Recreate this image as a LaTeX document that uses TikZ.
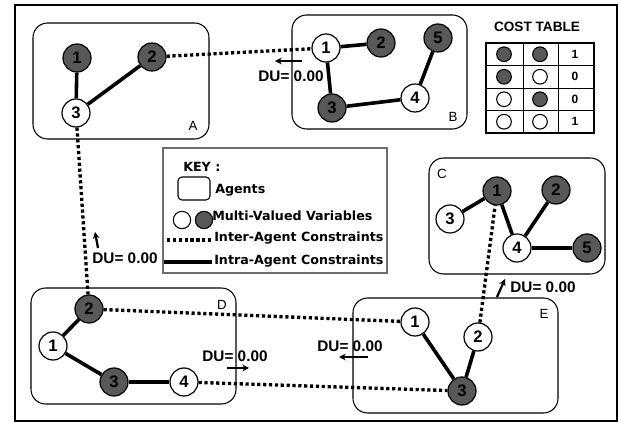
\documentclass[tikz,border=0pt]{standalone}
\usepackage{fontspec}
\setmainfont{Liberation Sans}
\newfontfamily\keyfont{DejaVu Sans}
\usetikzlibrary{arrows.meta,positioning}
\definecolor{varDark}{RGB}{88,88,88}
\definecolor{keyGray}{RGB}{110,110,110}
\tikzset{
  var/.style      = {circle, draw, line width=0.9pt, minimum size=21pt,
                     inner sep=0pt, font=\fontsize{12.5}{12}\selectfont\bfseries},
  dvar/.style     = {var, fill=varDark},
  wvar/.style     = {var, fill=white},
  intra/.style    = {line width=2.7pt},
  inter/.style    = {line width=2.5pt, dash pattern=on 2.4pt off 2pt},
  agentbox/.style = {draw, line width=0.8pt, rounded corners=11pt},
  du/.style       = {font=\fontsize{11.5}{12}\selectfont\bfseries},
  duarr/.style    = {-{Stealth[length=5pt,width=5pt]}, line width=1.7pt},
  agentlbl/.style = {font=\fontsize{10}{10}\selectfont},
  keytxt/.style   = {anchor=west, inner sep=0pt,
                     font=\keyfont\fontsize{9.5}{10}\selectfont\bfseries},
  ctdot/.style    = {circle, draw, line width=0.8pt, minimum size=11pt, inner sep=0pt}
}

\begin{document}
\begin{tikzpicture}[x=0.75pt, y=-0.75pt]
  \useasboundingbox[fill=white] (0,0) rectangle (621,423);
  \draw[line width=2.2pt] (15,5) rectangle (617,421);

  % agents
  \draw[agentbox] (33,23) rectangle (209,139);
  \draw[agentbox] (292,15) rectangle (467,129);
  \draw[agentbox] (429,158) rectangle (605,274);
  \draw[agentbox] (31,288) rectangle (236,404);
  \draw[agentbox] (353,298) rectangle (558,413);
  \node[agentlbl] (lblA) at (193,126) {A};
  \node[agentlbl] (lblB) at (453,117) {B};
  \node[agentlbl] (lblC) at (442,174) {C};
  \node[agentlbl] (lblD) at (222,305) {D};
  \node[agentlbl] (lblE) at (544,314) {E};

  % variables
  \node[dvar] (a1) at (77,58)   {1};
  \node[dvar] (a2) at (152,57)  {2};
  \node[wvar] (a3) at (76,113)  {3};

  \node[wvar] (b1) at (326,48)  {1};
  \node[dvar] (b2) at (381,43)  {2};
  \node[dvar] (b3) at (332,108) {3};
  \node[wvar] (b4) at (415,98)  {4};
  \node[dvar] (b5) at (438,38)  {5};

  \node[dvar] (c1) at (497,191) {1};
  \node[dvar] (c2) at (556,190) {2};
  \node[wvar] (c3) at (450,219) {3};
  \node[wvar] (c4) at (517,248) {4};
  \node[dvar] (c5) at (587,248) {5};

  \node[wvar] (d1) at (53,346)  {1};
  \node[dvar] (d2) at (89,309)  {2};
  \node[dvar] (d3) at (114,382) {3};
  \node[wvar] (d4) at (184,382) {4};

  \node[wvar] (e1) at (415,322) {1};
  \node[wvar] (e2) at (478,337) {2};
  \node[dvar] (e3) at (462,391) {3};

  % intra-agent constraints
  \draw[intra] (a1) -- (a3);
  \draw[intra] (a2) -- (a3);
  \draw[intra] (b1) -- (b2);
  \draw[intra] (b1) -- (b3);
  \draw[intra] (b3) -- (b4);
  \draw[intra] (b4) -- (b5);
  \draw[intra] (c3) -- (c1);
  \draw[intra] (c1) -- (c4);
  \draw[intra] (c4) -- (c2);
  \draw[intra] (c4) -- (c5);
  \draw[intra] (d2) -- (d1);
  \draw[intra] (d1) -- (d3);
  \draw[intra] (d3) -- (d4);
  \draw[intra] (e1) -- (e3);
  \draw[intra] (e2) -- (e3);

  % inter-agent constraints
  \draw[inter] (a2) -- (b1);
  \draw[inter] (a3) -- (d2);
  \draw[inter] (d2) -- (e1);
  \draw[inter] (d4) -- (e3);
  \draw[inter] (e2) -- (c1);

  % DU messages
  \coordinate (duABs) at (302,61);  \coordinate (duABe) at (275,61);
  \coordinate (duADs) at (98,248);  \coordinate (duADe) at (95,232);
  \coordinate (duDEs) at (227,368); \coordinate (duDEe) at (249,368);
  \coordinate (duEDs) at (368,357); \coordinate (duEDe) at (339,357);
  \coordinate (duECs) at (497,297); \coordinate (duECe) at (505,279);
  \draw[duarr] (duABs) -- (duABe);
  \draw[duarr] (duADs) -- (duADe);
  \draw[duarr] (duDEs) -- (duDEe);
  \draw[duarr] (duEDs) -- (duEDe);
  \draw[duarr] (duECs) -- (duECe);
  \node[du] (tAB) at (291,76)  {DU= 0.00};
  \node[du] (tAD) at (125,258) {DU= 0.00};
  \node[du] (tDE) at (235,356) {DU= 0.00};
  \node[du] (tED) at (350,346) {DU= 0.00};
  \node[du] (tEC) at (543,287) {DU= 0.00};

  % cost table
  \node[font=\fontsize{10.2}{11}\selectfont\bfseries] (ctitle) at (537,27) {COST TABLE};
  \draw[line width=0.5pt] (523,43) -- (523,133) (558,43) -- (558,133)
    (486,65.5) -- (594,65.5) (486,88) -- (594,88) (486,110.5) -- (594,110.5);
  \draw[line width=1.5pt] (486,43) rectangle (594,133);
  \foreach \fa/\fb/\cost [count=\r] in {varDark/varDark/1, varDark/white/0,
                                        white/varDark/0, white/white/1} {
    \node[ctdot, fill=\fa] (ct\r a) at (504,31.75+22.5*\r) {};
    \node[ctdot, fill=\fb] (ct\r b) at (540,31.75+22.5*\r) {};
    \node[font=\fontsize{9}{9}\selectfont\bfseries] (ct\r c) at (575,31.75+22.5*\r) {\cost};
  }

  % key
  \draw[keyGray, line width=0.9pt] (163,148) rectangle (387,273);
  \node[keytxt] (kTitle) at (183,167) {KEY :};
  \draw[line width=0.8pt, rounded corners=3pt] (178,177) rectangle (210,200);
  \node[keytxt] (kAgent) at (215,190) {Agents};
  \node[ctdot, minimum size=13pt, fill=white] (kw) at (182,220) {};
  \node[ctdot, minimum size=13pt, fill=varDark] (kd) at (204,220) {};
  \node[keytxt] (kVar) at (212,216) {Multi-Valued Variables};
  \coordinate (kiS) at (167,240); \coordinate (kiE) at (212,240);
  \draw[inter] (kiS) -- (kiE);
  \node[keytxt] (kInter) at (214,238) {Inter-Agent Constraints};
  \coordinate (kaS) at (164,262); \coordinate (kaE) at (212,262);
  \draw[intra] (kaS) -- (kaE);
  \node[keytxt] (kIntra) at (214,261) {Intra-Agent Constraints};
\end{tikzpicture}
\end{document}
